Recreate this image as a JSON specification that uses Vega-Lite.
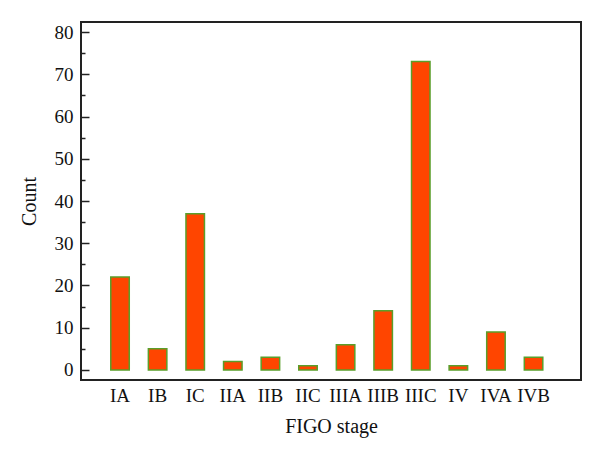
{
  "$schema": "https://vega.github.io/schema/vega-lite/v6.json",
  "width": 500,
  "height": 358,
  "autosize": {"type": "none"},
  "padding": {"left": 81, "top": 22, "right": 19, "bottom": 80},
  "background": "white",
  "config": {
    "view": {"stroke": "#222222", "strokeWidth": 2},
    "font": "Liberation Serif",
    "axis": {"labelFont": "Liberation Serif", "titleFont": "Liberation Serif", "labelColor": "#111111", "titleColor": "#111111", "titleFontWeight": "normal", "grid": false, "domain": false}
  },
  "data": {
    "values": [
      {"stage": "IA", "count": 22},
      {"stage": "IB", "count": 5},
      {"stage": "IC", "count": 37},
      {"stage": "IIA", "count": 2},
      {"stage": "IIB", "count": 3},
      {"stage": "IIC", "count": 1},
      {"stage": "IIIA", "count": 6},
      {"stage": "IIIB", "count": 14},
      {"stage": "IIIC", "count": 73},
      {"stage": "IV", "count": 1},
      {"stage": "IVA", "count": 9},
      {"stage": "IVB", "count": 3}
    ]
  },
  "mark": {"type": "bar", "fill": "#ff4500", "stroke": "#5a9e2a", "strokeWidth": 1.5},
  "encoding": {
    "x": {
      "field": "stage",
      "type": "nominal",
      "sort": null,
      "scale": {"paddingInner": 0.508, "paddingOuter": 0.904, "align": 0.438},
      "axis": {"title": "FIGO stage", "labelAngle": 0, "ticks": false, "labelFontSize": 19, "labelPadding": 6, "titleFontSize": 20, "titlePadding": 11}
    },
    "y": {
      "field": "count",
      "type": "quantitative",
      "scale": {"domain": [-2.37, 82.37], "nice": false, "zero": false},
      "axis": {
        "title": "Count",
        "values": [0, 5, 10, 15, 20, 25, 30, 35, 40, 45, 50, 55, 60, 65, 70, 75, 80],
        "labelExpr": "datum.value % 10 === 0 ? datum.label : ''",
        "tickSize": {"condition": {"test": "datum.value % 10 === 0", "value": -8}, "value": -4},
        "tickColor": "#222222",
        "tickWidth": 1.5,
        "labelFontSize": 19,
        "labelPadding": 16,
        "titleFontSize": 20,
        "titlePadding": 15
      }
    },
    "y2": {"datum": 0}
  }
}
